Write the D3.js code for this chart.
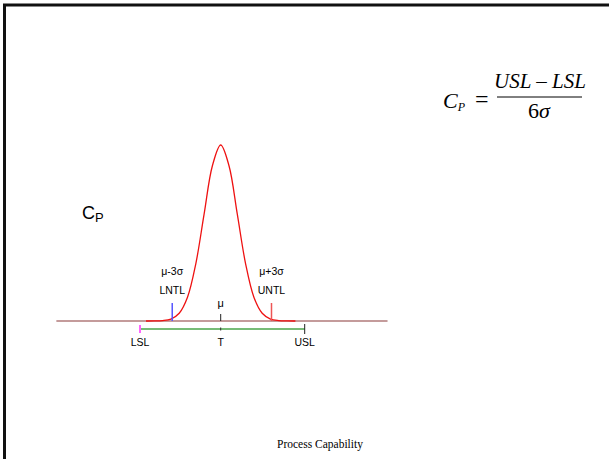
<!DOCTYPE html>
<html>
<head>
<meta charset="utf-8">
<script src="https://cdn.jsdelivr.net/npm/d3@7"></script>
<style>
  body { margin: 0; background: #fff; }
  svg { display: block; }
</style>
</head>
<body>
<svg id="chart" width="609" height="459"></svg>
<script>
// normal curve (z in sigma units, height relative to peak)
var curveZ = [-4.5, -4, -3.5, -3, -2.5, -2, -1.5, -1, -0.5, 0, 0.5, 1, 1.5, 2, 2.5, 3, 3.5, 4, 4.5];
var curveH = [0, 0.0003, 0.0022, 0.011, 0.044, 0.135, 0.325, 0.607, 0.882, 1, 0.882, 0.607, 0.325, 0.135, 0.044, 0.011, 0.0022, 0.0003, 0];

// markers on the axis (sigma units)
var axisRange = [-9.9, 10.05];
var specNames = ['LSL', 'T', 'USL'];
var specPos = [-4.86, 0, 5.06];
var natNames = ['LNTL', 'UNTL'];
var natTop = ['\u03bc-3\u03c3', '\u03bc+3\u03c3'];
var natPos = [-2.92, 3.06];

var svg = d3.select('#chart');
var sans = 'Liberation Sans, Arial, sans-serif';
var serif = 'Liberation Serif, Times New Roman, serif';

var x = d3.scaleLinear().domain([0, 1]).range([220.7, 237.3]);
var y = d3.scaleLinear().domain([0, 1]).range([321, 145]);

// frame
svg.append('path')
    .attr('d', 'M 4.5 459 L 4.5 5 L 609 5')
    .attr('fill', 'none')
    .attr('stroke', '#111')
    .attr('stroke-width', 3);

// baseline
svg.append('line')
    .attr('x1', x(axisRange[0])).attr('x2', x(axisRange[1]))
    .attr('y1', y(0)).attr('y2', y(0))
    .attr('stroke', '#b07a7a')
    .attr('stroke-width', 1.5);

// curve
var line = d3.line()
    .x(function (d, i) { return x(curveZ[i]); })
    .y(function (d) { return y(d); })
    .curve(d3.curveCatmullRom);

svg.append('path')
    .datum(curveH)
    .attr('d', line)
    .attr('fill', 'none')
    .attr('stroke', '#ee1111')
    .attr('stroke-width', 1.3);

// mu tick
svg.append('line')
    .attr('x1', x(0)).attr('x2', x(0))
    .attr('y1', y(0) - 7).attr('y2', y(0))
    .attr('stroke', '#222').attr('stroke-width', 1);

svg.append('text')
    .attr('x', x(0)).attr('y', 307)
    .attr('text-anchor', 'middle')
    .attr('font-family', sans)
    .attr('font-size', 11)
    .text('\u03bc');

// natural tolerance ticks
var natColor = ['#5555ff', '#ee5555'];
for (var i = 0; i < natPos.length; i++) {
    svg.append('line')
        .attr('x1', x(natPos[i])).attr('x2', x(natPos[i]))
        .attr('y1', y(0) - 18).attr('y2', y(0))
        .attr('stroke', natColor[i]).attr('stroke-width', 1.5);
    svg.append('text')
        .attr('x', x(natPos[i])).attr('y', 294)
        .attr('text-anchor', 'middle')
        .attr('font-family', sans)
        .attr('font-size', 10.5)
        .text(natNames[i]);
    svg.append('text')
        .attr('x', x(natPos[i])).attr('y', 275)
        .attr('text-anchor', 'middle')
        .attr('font-family', sans)
        .attr('font-size', 10.5)
        .text(natTop[i]);
}

// spec line
var specY = 329;
svg.append('line')
    .attr('x1', x(specPos[0])).attr('x2', x(specPos[2]))
    .attr('y1', specY).attr('y2', specY)
    .attr('stroke', '#77bb77').attr('stroke-width', 2);

var specColor = ['#ff66ff', '#333', '#222'];
var specTick = [4, 1.5, 5];
for (var j = 0; j < specPos.length; j++) {
    svg.append('line')
        .attr('x1', x(specPos[j])).attr('x2', x(specPos[j]))
        .attr('y1', specY - specTick[j]).attr('y2', specY + specTick[j])
        .attr('stroke', specColor[j]).attr('stroke-width', j == 0 ? 2 : 1);
    svg.append('text')
        .attr('x', x(specPos[j])).attr('y', 346)
        .attr('text-anchor', 'middle')
        .attr('font-family', sans)
        .attr('font-size', 10.5)
        .text(specNames[j]);
}

// Cp label
var cp = svg.append('text')
    .attr('x', 82).attr('y', 219)
    .attr('font-family', sans)
    .attr('font-size', 18);
cp.append('tspan').text('C');
cp.append('tspan').attr('font-size', 13).attr('dy', 3).text('P');

// formula
var f = svg.append('g').attr('font-family', serif);
var lhs = f.append('text')
    .attr('x', 443).attr('y', 108)
    .attr('font-size', 22)
    .attr('font-style', 'italic');
lhs.append('tspan').text('C');
lhs.append('tspan').attr('font-size', 12).attr('dy', 3).text('P');
f.append('text')
    .attr('x', 475).attr('y', 107)
    .attr('font-size', 24)
    .text('=');
f.append('text')
    .attr('x', 540).attr('y', 88)
    .attr('text-anchor', 'middle')
    .attr('font-size', 21)
    .attr('font-style', 'italic')
    .text('USL \u2013 LSL');
f.append('line')
    .attr('x1', 497).attr('x2', 582)
    .attr('y1', 97).attr('y2', 97)
    .attr('stroke', '#000').attr('stroke-width', 1);
var den = f.append('text')
    .attr('x', 539).attr('y', 118)
    .attr('text-anchor', 'middle')
    .attr('font-size', 22);
den.append('tspan').text('6');
den.append('tspan').attr('font-style', 'italic').text('\u03c3');

// footer
svg.append('text')
    .attr('x', 320).attr('y', 448)
    .attr('text-anchor', 'middle')
    .attr('font-family', serif)
    .attr('font-size', 11.5)
    .text('Process Capability');
</script>
</body>
</html>
